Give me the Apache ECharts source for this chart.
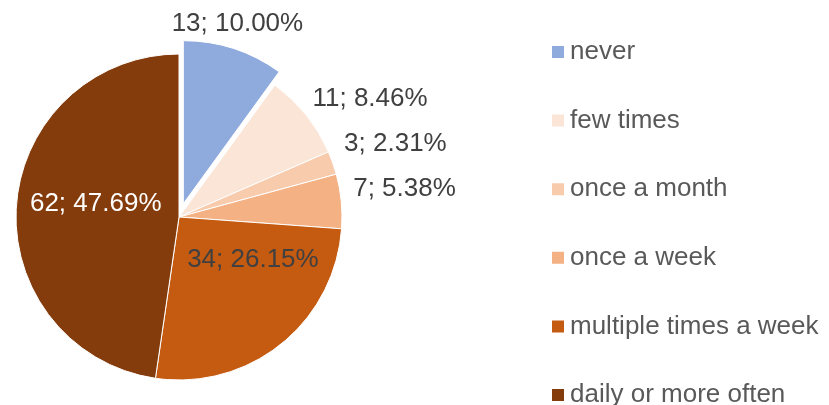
<!DOCTYPE html>
<html>
<head>
<meta charset="utf-8">
<script src="https://cdn.jsdelivr.net/npm/echarts@6/dist/echarts.min.js"></script>
<style>
html,body{margin:0;padding:0;background:#fff}
#main{width:829px;height:405px}
</style>
</head>
<body>
<div id="main"></div>
<script>
var categories = ['never', 'few times', 'once a month', 'once a week', 'multiple times a week', 'daily or more often'];
var counts = [13, 11, 3, 7, 34, 62];
var colors = ['#8FAADC', '#FBE5D6', '#F8CBAD', '#F4B183', '#C55A11', '#843C0C'];

// label placement, Excel style: outside labels hang off the rim, two inside
var labelPos = ['outside', 'outside', 'outside', 'outside', 'inside', 'inside'];
var labelColor = ['#404040', '#404040', '#404040', '#404040', '#404040', '#FFFFFF'];
var labelAlign = ['center', 'left', 'left', 'left', 'center', 'center'];
var labelVAlign = ['bottom', 'bottom', 'bottom', 'bottom', 'middle', 'middle'];
var labelShift = [[0, 0], [-3, 4], [0, -2], [0, 2], [21, -23], [1, -7]];

var font = '"Liberation Sans", Arial, sans-serif';
var total = 0;
for (var k = 0; k < counts.length; k++) total += counts[k];

var pieData = [];
for (var i = 0; i < categories.length; i++) {
	pieData.push({
		name : categories[i],
		value : counts[i],
		selected : i === 0,
		itemStyle : { color : colors[i] },
		label : { position : labelPos[i], color : labelColor[i] }
	});
}

var myChart = echarts.init(document.getElementById('main'));
var option = {
	animation : false,
	backgroundColor : '#fff',
	legend : {
		orient : 'vertical',
		left : 550,
		top : 39,
		height : 430,
		padding : 0,
		icon : 'rect',
		itemWidth : 14,
		itemHeight : 14,
		itemGap : 42.6,
		selectedMode : false,
		textStyle : { fontSize : 26, color : '#595959', fontFamily : font },
		data : categories
	},
	series : [ {
		type : 'pie',
		center : [179, 217],
		radius : 163,
		startAngle : 90,
		clockwise : true,
		selectedMode : 'single',
		selectedOffset : 14,
		avoidLabelOverlap : false,
		itemStyle : { borderColor : '#fff', borderWidth : 1 },
		label : {
			fontSize : 26,
			fontFamily : font,
			distanceToLabelLine : 0,
			alignTo : 'none',
			formatter : function(p) {
				return p.value + '; ' + (p.value / total * 100).toFixed(2) + '%';
			}
		},
		labelLine : { show : false, length : 12, length2 : 0 },
		labelLayout : function(p) {
			var i = p.dataIndex;
			return {
				align : labelAlign[i],
				verticalAlign : labelVAlign[i],
				dx : labelShift[i][0],
				dy : labelShift[i][1]
			};
		},
		emphasis : { disabled : true },
		data : pieData
	} ]
};
myChart.setOption(option);
</script>
</body>
</html>
